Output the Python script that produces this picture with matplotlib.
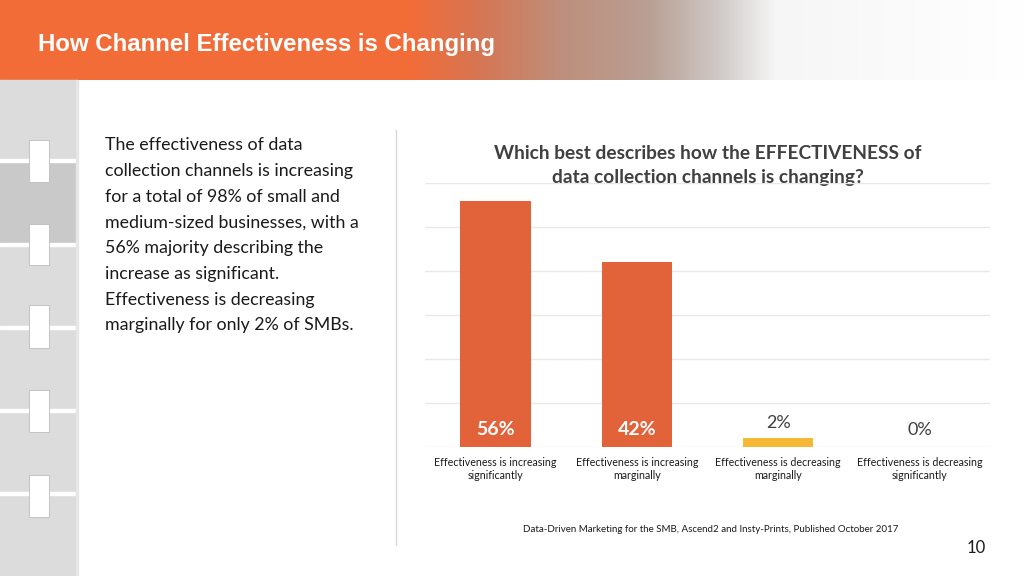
import numpy as np
import matplotlib
matplotlib.use("Agg")
import matplotlib.pyplot as plt
from matplotlib.patches import Rectangle

# chart data
categories = [
    "Effectiveness is increasing\nsignificantly",
    "Effectiveness is increasing\nmarginally",
    "Effectiveness is decreasing\nmarginally",
    "Effectiveness is decreasing\nsignificantly",
]
values = [56, 42, 2, 0]
value_labels = ["56%", "42%", "2%", "0%"]
bar_colors = ["#E2623A", "#E2623A", "#F5B935", "#E2623A"]

slide_title = "How Channel Effectiveness is Changing"
chart_title = "Which best describes how the EFFECTIVENESS of\ndata collection channels is changing?"
body_text = ("The effectiveness of data\n"
             "collection channels is increasing\n"
             "for a total of 98% of small and\n"
             "medium-sized businesses, with a\n"
             "56% majority describing the\n"
             "increase as significant.\n"
             "Effectiveness is decreasing\n"
             "marginally for only 2% of SMBs.")
source_text = "Data-Driven Marketing for the SMB, Ascend2 and Insty-Prints, Published October 2017"
page_number = "10"

FONT = ["Lato", "DejaVu Sans"]
W, H = 1024, 576
fig = plt.figure(figsize=(W / 100, H / 100), dpi=100)
fig.patch.set_facecolor("white")

# background layer in pixel coordinates
bg = fig.add_axes([0, 0, 1, 1])
bg.axis("off")

# header gradient: orange -> brownish -> grey -> white
stops_x = [0, 410, 480, 560, 650, 720, 775, W]
stops_c = np.array([
    [242, 108, 56], [242, 108, 56], [214, 118, 84], [190, 143, 124],
    [184, 160, 148], [208, 202, 200], [246, 246, 246], [255, 255, 255],
]) / 255.0
xs = np.arange(W)
grad = np.stack([np.interp(xs, stops_x, stops_c[:, k]) for k in range(3)], axis=-1)
grad = np.repeat(grad[np.newaxis, :, :], 2, axis=0)
bg.imshow(grad, extent=(0, W, 80, 0), aspect="auto", interpolation="bilinear", zorder=0)
bg.set_xlim(0, W)
bg.set_ylim(H, 0)

bg.text(38, 44, slide_title, color="white", fontsize=17.3, fontweight="bold",
        family=["Liberation Sans", "DejaVu Sans"], va="center", ha="left")

# left sidebar with binder notches
bg.add_patch(Rectangle((0, 80), 76, H - 80, color="#DCDCDC", zorder=1))
bg.add_patch(Rectangle((0, 163), 76, 80, color="#C9C9C9", zorder=1))
for y in [161, 245, 328, 411, 494]:
    bg.add_patch(Rectangle((0, y - 2), 76, 3, color="white", zorder=2))
for y0, y1 in [(140, 182), (224, 265), (305, 348), (390, 432), (475, 517)]:
    bg.add_patch(Rectangle((29, y0), 20, y1 - y0, facecolor="white",
                           edgecolor="#BDBDBD", linewidth=0.6, zorder=3))
bg.add_patch(Rectangle((76, 80), 1.5, H - 80, color="#E6E6E6", zorder=2))

# divider line
bg.plot([396, 396], [130, 545], color="#D9D9D9", linewidth=1, zorder=2)

bg.text(105, 137, body_text, fontsize=12.8, family=FONT,
        color="#1A1A1A", va="top", ha="left", linespacing=1.75)

bg.text(708, 165.5, chart_title, fontsize=13.8, fontweight="bold",
        family=FONT, color="#404040", ha="center", va="center",
        linespacing=1.5)

bg.text(711, 530, source_text, fontsize=7, family=FONT,
        color="#1A1A1A", ha="center", va="center")
bg.text(976, 548, page_number, fontsize=12, family=FONT,
        color="#1A1A1A", ha="center", va="center")

# bar chart
ax = fig.add_axes([425 / W, 1 - 447 / H, 565 / W, 264 / H])
ax.patch.set_alpha(0)
x = np.arange(len(values))
ax.bar(x, values, width=0.5, color=bar_colors, zorder=3)
ax.set_xlim(-0.5, len(values) - 0.5)
ax.set_ylim(0, 60)
ax.set_yticks(np.arange(0, 61, 10))
ax.yaxis.grid(True, color="#E8E8E8", linewidth=1, zorder=0)
ax.tick_params(axis="y", left=False, labelleft=False)
ax.tick_params(axis="x", bottom=False, pad=3.5)
ax.set_xticks(x)
ax.set_xticklabels(categories, fontsize=7.7, family=FONT, color="#1A1A1A")
for s in ax.spines.values():
    s.set_visible(False)

for xi, v, lab in zip(x, values, value_labels):
    if v > 10:
        ax.text(xi, 3.9, lab, ha="center", va="center", color="white",
                fontsize=14, fontweight="bold", family=FONT, zorder=4)
    elif v > 0:
        ax.text(xi, v + 3.5, lab, ha="center", va="center",
                color="#404040", fontsize=13, family=FONT, zorder=4)
    else:
        ax.text(xi, 3.9, lab, ha="center", va="center",
                color="#404040", fontsize=13, family=FONT, zorder=4)

fig.savefig("out.png", dpi=100)
